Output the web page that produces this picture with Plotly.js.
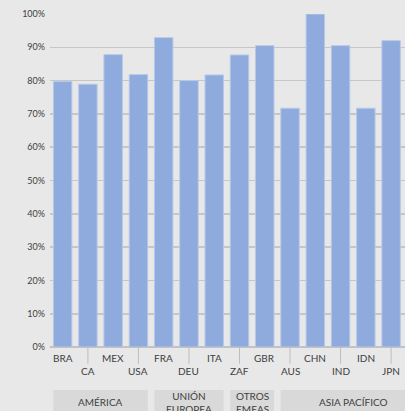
<!DOCTYPE html>
<html>
<head>
<meta charset="utf-8">
<script src="https://cdn.plot.ly/plotly-3.0.1.min.js"></script>
<style>
html,body{margin:0;padding:0;overflow:hidden;background:#e8e8e8;width:405px;height:411px;}
#chart{width:440px;height:411px;}
</style>
</head>
<body>
<div id="chart"></div>
<script>
const categories = ['BRA','CA','MEX','USA','FRA','DEU','ITA','ZAF','GBR','AUS','CHN','IND','IDN','JPN','KOR'];
const values = [79.7, 78.9, 87.8, 81.8, 92.9, 80.0, 81.7, 87.7, 90.5, 71.7, 100, 90.5, 71.7, 92.0, 85.0];
const groupNames = ['AMÉRICA','UNIÓN<br>EUROPEA','OTROS<br>EMEAS','ASIA PACÍFICO'];
const groupStart = [0, 4, 7, 9];
const groupEnd = [3, 6, 8, 14];
const yTickVals = [0,10,20,30,40,50,60,70,80,90,100];
const yTickText = ['0%','10%','20%','30%','40%','50%','60%','70%','80%','90%','100%'];

const FONT = 'Lato, "Open Sans", sans-serif';
const TXT = '#404040';
const half = 0.37;

const annotations = [];
const shapes = [];

categories.forEach((c, i) => {
  const upper = i % 2 === 0;
  annotations.push({
    x: c, xref: 'x', y: upper ? -0.032 : -0.071, yref: 'paper',
    text: c, showarrow: false, xanchor: 'center', yanchor: 'middle',
    font: {family: FONT, size: 10, color: TXT}
  });
  if (!upper) {
    shapes.push({type: 'line', xref: 'x', yref: 'paper', x0: i, x1: i, y0: 0, y1: -0.05,
      line: {color: '#bdbdbd', width: 1}});
  }
});

groupNames.forEach((g, k) => {
  shapes.push({type: 'rect', xref: 'x', yref: 'paper',
    x0: groupStart[k] - half, x1: groupEnd[k] + half, y0: -0.129, y1: -0.25,
    fillcolor: '#d9d9d9', line: {width: 0}, layer: 'below'});
  annotations.push({
    x: (groupStart[k] + groupEnd[k]) / 2, xref: 'x', y: -0.166, yref: 'paper',
    text: g, showarrow: false, xanchor: 'center', yanchor: 'middle',
    font: {family: FONT, size: 10, color: TXT}
  });
});

const trace = {
  type: 'bar', x: categories, y: values,
  marker: {color: '#8faadc', line: {color: '#b7c9e8', width: 1}},
  hoverinfo: 'none'
};

const layout = {
  width: 440, height: 411,
  margin: {l: 50, r: 11, t: 14, b: 64},
  paper_bgcolor: '#e8e8e8', plot_bgcolor: '#e8e8e8',
  bargap: 0.27,
  showlegend: false,
  xaxis: {
    type: 'category', range: [-0.5, 14.5], showticklabels: false,
    showgrid: false, zeroline: false, showline: false, ticks: ''
  },
  yaxis: {
    range: [0, 100], tickvals: yTickVals, ticktext: yTickText,
    showgrid: true, gridcolor: '#c6c6c6', gridwidth: 1.6,
    zeroline: true, zerolinecolor: '#c2c2c2', zerolinewidth: 1.6,
    showline: false, ticks: '', ticklabelstandoff: 4,
    tickfont: {family: FONT, size: 9, color: TXT}
  },
  shapes: shapes,
  annotations: annotations
};

Plotly.newPlot('chart', [trace], layout, {staticPlot: true, displayModeBar: false});
</script>
</body>
</html>
